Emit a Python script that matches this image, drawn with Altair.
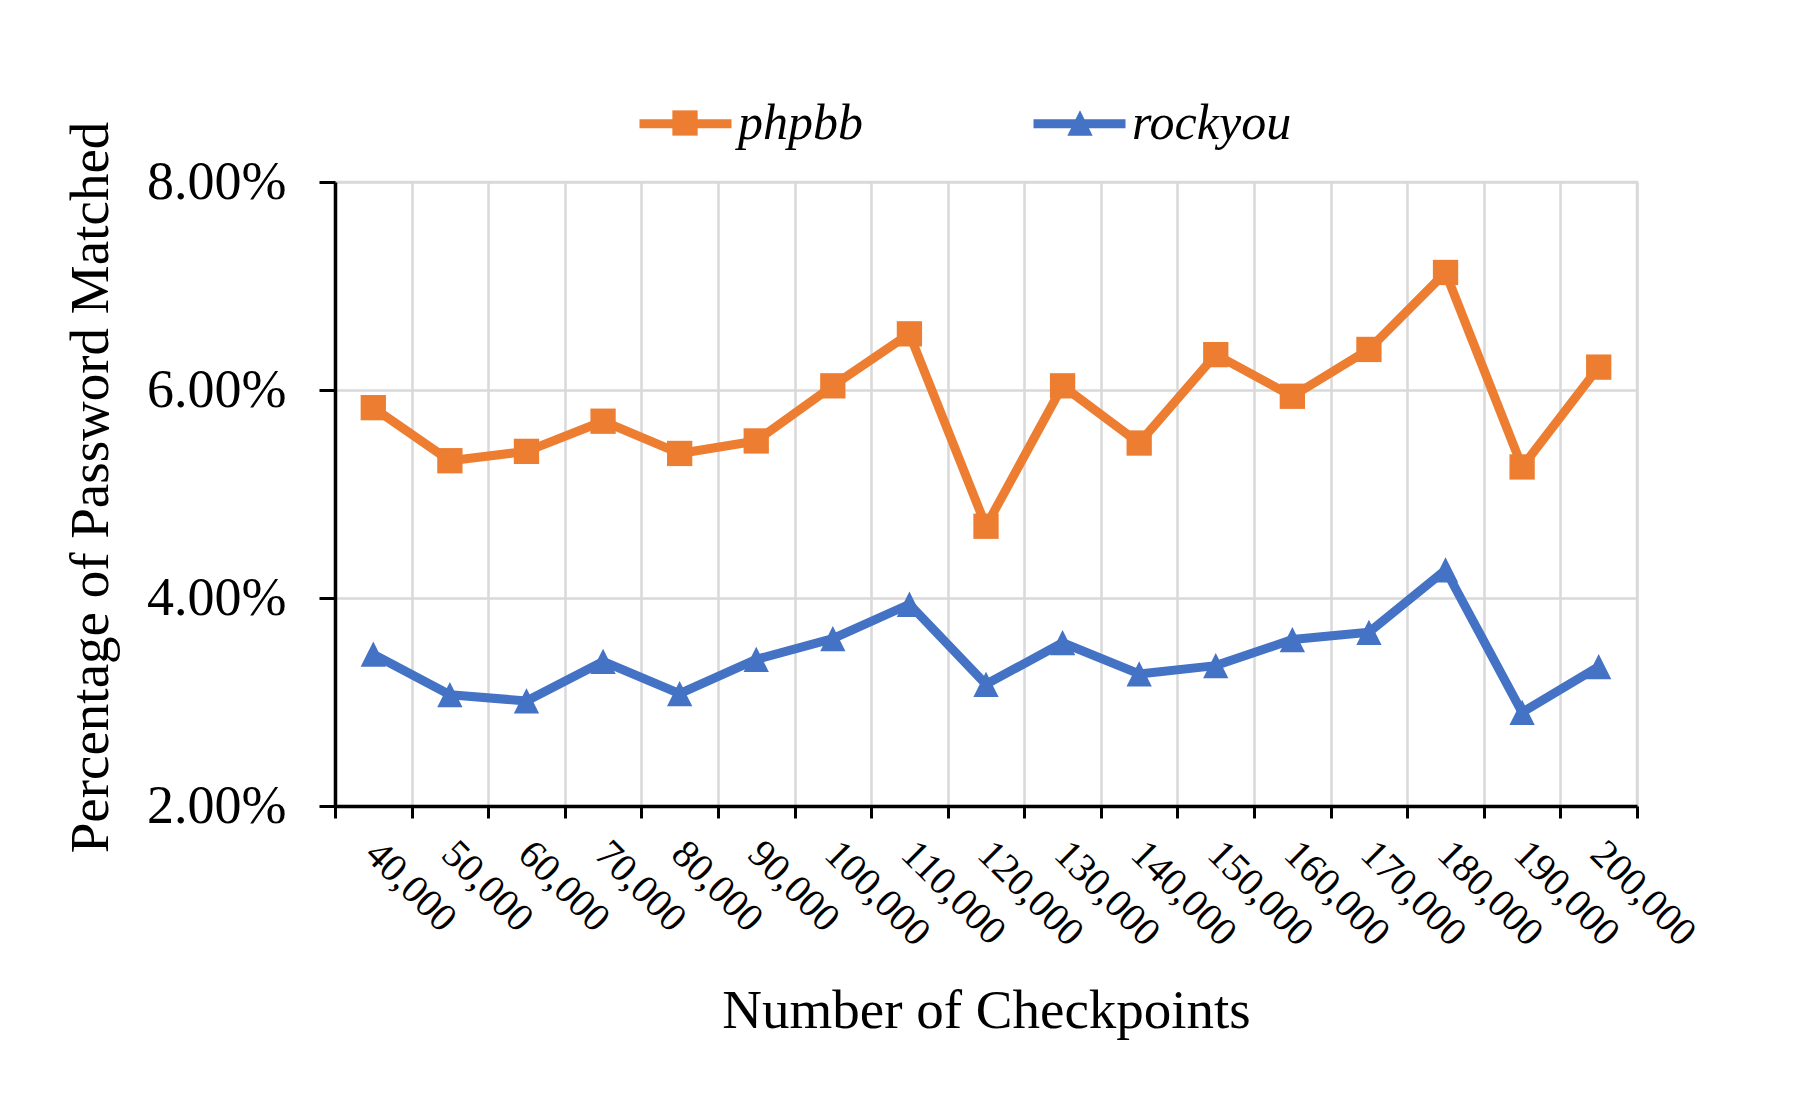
import altair as alt
import pandas as pd

checkpoints = ["40,000", "50,000", "60,000", "70,000", "80,000", "90,000", "100,000",
               "110,000", "120,000", "130,000", "140,000", "150,000", "160,000",
               "170,000", "180,000", "190,000", "200,000"]
phpbb = [5.83, 5.32, 5.41, 5.70, 5.39, 5.51, 6.04, 6.54, 4.69, 6.04, 5.49, 6.34,
         5.94, 6.39, 7.13, 5.26, 6.22]
rockyou = [3.46, 3.07, 3.01, 3.39, 3.08, 3.41, 3.61, 3.94, 3.17, 3.57, 3.27, 3.35,
           3.60, 3.67, 4.27, 2.90, 3.34]
series_names = ["phpbb", "rockyou"]
series_colors = ["#ED7D31", "#4472C4"]
series_shapes = ["square", "M0,-1L1,1L-1,1Z"]
y_ticks = [0.02, 0.04, 0.06, 0.08]

rows = []
for name, vals in zip(series_names, [phpbb, rockyou]):
    for cp, v in zip(checkpoints, vals):
        rows.append({"checkpoint": cp, "series": name, "marker": name, "value": v / 100.0})
df = pd.DataFrame(rows)

FONT = "Liberation Serif"

# legend of the line part (visible labels)
legend_line = alt.Legend(
    orient="none", legendX=300, legendY=-109, direction="horizontal", title=None,
    symbolType="stroke", symbolSize=8464, symbolStrokeWidth=9,
    labelFontSize=50, labelFont=FONT, labelFontStyle="italic",
    labelColor="black", labelOffset=2, columnPadding=152,
)
# legend of the marker part, drawn on top of the line legend (blank labels)
legend_marker = alt.Legend(
    orient="none", legendX=300, legendY=-84, direction="horizontal", title=None,
    symbolSize=640, symbolStrokeWidth=0, symbolOpacity=1, symbolOffset=25,
    labelFontSize=50, labelFont=FONT, labelFontStyle="italic",
    labelExpr="'          '", labelOpacity=0, labelOffset=53, columnPadding=267,
)

x_enc = alt.X(
    "checkpoint:N", sort=checkpoints,
    scale=alt.Scale(type="band", paddingInner=0, paddingOuter=0),
    bandPosition=0.5,
    axis=alt.Axis(
        title="Number of Checkpoints", tickBand="extent", labelAngle=45,
        labelAlign="left", labelBaseline="top", labelFontSize=40, labelFont=FONT,
        labelColor="black", labelPadding=15, labelOffset=12, tickSize=12,
        tickColor="black", tickWidth=3, domainColor="black", domainWidth=3.5,
        grid=True, gridColor="#D9D9D9", gridWidth=2.5, titleFontSize=55,
        titleFont=FONT, titleFontWeight="normal", titleColor="black",
        titleY=221, titleBaseline="alphabetic",
    ),
)
y_enc = alt.Y(
    "value:Q",
    scale=alt.Scale(domain=[0.02, 0.08], nice=False, zero=False),
    axis=alt.Axis(
        values=y_ticks, format=".2%", title="Percentage of Password Matched",
        labelFontSize=54, labelFont=FONT, labelColor="black", labelPadding=33,
        tickSize=16, tickColor="black", tickWidth=3, domainColor="black",
        domainWidth=3.5, grid=True, gridColor="#D9D9D9", gridWidth=2.5,
        titleFontSize=55, titleFont=FONT, titleFontWeight="normal",
        titleColor="black", titleX=-228, titleY=305, titleAngle=-90,
        titleBaseline="alphabetic", titleAlign="center",
    ),
)

lines = alt.Chart(df).mark_line(strokeWidth=9, strokeJoin="round", strokeCap="round").encode(
    x=x_enc, y=y_enc,
    color=alt.Color("series:N", scale=alt.Scale(domain=series_names, range=series_colors),
                    legend=legend_line),
)
points = alt.Chart(df).mark_point(filled=True, opacity=1, size=640).encode(
    x=x_enc, y=y_enc,
    color=alt.Color("marker:N", scale=alt.Scale(domain=series_names, range=series_colors),
                    legend=legend_marker),
    shape=alt.Shape("marker:N", scale=alt.Scale(domain=series_names, range=series_shapes),
                    legend=legend_marker),
)

chart = alt.layer(lines, points).resolve_scale(
    color="independent", shape="independent"
).resolve_legend(
    color="independent", shape="independent"
).properties(
    width=1302, height=624,
    autosize=alt.AutoSizeParams(type="none"),
    padding={"left": 327, "top": 174, "right": 140, "bottom": 260},
    background="white",
).configure_view(stroke="#D9D9D9", strokeWidth=2.5)

chart.save("out.html", embed_options={"renderer": "svg", "actions": False})
